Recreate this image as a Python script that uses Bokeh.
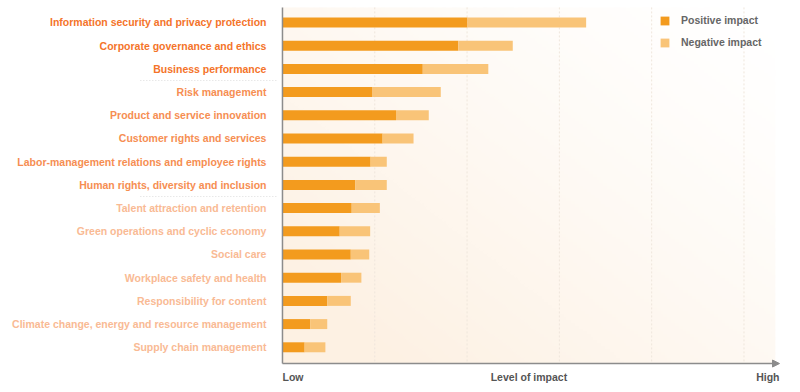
import numpy as np
from bokeh.plotting import figure
from bokeh.models import Range1d, ColumnDataSource, Arrow, NormalHead, Legend, LegendItem
from bokeh.core.properties import value
from bokeh.embed import file_html
from bokeh.resources import INLINE

categories = [
    "Information security and privacy protection",
    "Corporate governance and ethics",
    "Business performance",
    "Risk management",
    "Product and service innovation",
    "Customer rights and services",
    "Labor-management relations and employee rights",
    "Human rights, diversity and inclusion",
    "Talent attraction and retention",
    "Green operations and cyclic economy",
    "Social care",
    "Workplace safety and health",
    "Responsibility for content",
    "Climate change, energy and resource management",
    "Supply chain management",
]
positive = [40.1, 38.1, 30.4, 19.4, 24.6, 21.7, 19.1, 15.8, 15.0, 12.4, 14.8, 12.7, 9.7, 6.0, 4.8]
negative = [25.7, 11.8, 14.2, 14.9, 7.1, 6.7, 3.5, 6.8, 6.1, 6.6, 4.0, 4.4, 5.1, 3.7, 4.5]
tiers = [1, 1, 1, 2, 2, 2, 2, 2, 3, 3, 3, 3, 3, 3, 3]
grid_ticks = [20, 40, 60, 80, 100]
axis_labels = ["Low", "Level of impact", "High"]
series_names = ["Positive impact", "Negative impact"]

POS_COLOR = "#F39B1E"
NEG_COLOR = "#F9C478"
TIER_COLORS = {1: "#F4742A", 2: "#F68E52", 3: "#F9BA94"}
FONT_NAME = "Liberation Sans"
FONT = value(FONT_NAME)

W, H = 796, 390
X_MAX = 106.8
Y_TOP = -0.65
Y_BOT = 14.7

rows = list(range(len(categories)))
totals = [p + n for p, n in zip(positive, negative)]
src = ColumnDataSource(dict(
    y=rows, pos=positive, tot=totals, cat=categories,
    col=[TIER_COLORS[t] for t in tiers],
))

p = figure(width=W, height=H, output_backend="svg", toolbar_location=None,
           x_range=Range1d(-61.10, -61.10 + W / 4.615),
           y_range=Range1d(-0.948 + H / 23.2, -0.948),
           min_border=0, outline_line_color=None, background_fill_color="white")
p.axis.visible = False
p.grid.visible = False

# background gradient of the plotting area
ny, nx = 120, 240
yy, xx = np.mgrid[0:ny, 0:nx]
ydown = yy / (ny - 1)
xn = xx / (nx - 1)
s = np.clip(0.55 * ydown + 0.6 * (1 - xn), 0, 1)
img = np.zeros((ny, nx), dtype=np.uint32)
view = img.view(dtype=np.uint8).reshape((ny, nx, 4))
view[:, :, 0] = 252
view[:, :, 1] = 236
view[:, :, 2] = 218
view[:, :, 3] = (255 * 0.75 * s ** 1.3).astype(np.uint8)
p.image_rgba(image=[img], x=0, y=Y_TOP, dw=X_MAX, dh=Y_BOT - Y_TOP)

# grid lines
p.segment(x0=grid_ticks, y0=Y_TOP, x1=grid_ticks, y1=Y_BOT,
          line_color="#efe6dc", line_width=1, line_dash="2 2")

# bars
r_pos = p.hbar(y="y", left=0, right="pos", height=0.43, source=src,
               fill_color=POS_COLOR, line_color=None)
r_neg = p.hbar(y="y", left="pos", right="tot", height=0.43, source=src,
               fill_color=NEG_COLOR, line_color=None)

# category labels
p.text(x=-3.47, y="y", text="cat", source=src, text_color="col",
       text_align="right", text_baseline="middle", text_font=FONT,
       text_font_style="bold", text_font_size="10.5px")

# dotted separators between tiers
seps = [i - 0.5 for i in range(1, len(tiers)) if tiers[i] != tiers[i - 1]]
p.segment(x0=-30.8, y0=seps, x1=-1.0, y1=seps, line_color="#dddddd",
          line_width=1, line_dash="1 2")

# axes
p.segment(x0=[0], y0=[Y_TOP], x1=[0], y1=[Y_BOT], line_color="#8c8c8c", line_width=1.5)
p.add_layout(Arrow(end=NormalHead(size=7, fill_color="#8c8c8c", line_color="#8c8c8c"),
                   x_start=0, y_start=Y_BOT, x_end=107.7, y_end=Y_BOT,
                   line_color="#8c8c8c", line_width=1.5))

ax_src = ColumnDataSource(dict(x=[0, X_MAX / 2, 107.7], y=[15.3] * 3, t=axis_labels,
                               a=["left", "center", "right"]))
p.text(x="x", y="y", text="t", text_align="a", source=ax_src, text_baseline="middle",
       text_color="#555555", text_font=FONT, text_font_style="bold",
       text_font_size="10.5px")

legend = Legend(items=[LegendItem(label=series_names[0], renderers=[r_pos]),
                       LegendItem(label=series_names[1], renderers=[r_neg])],
                location=(659, H - 16 - 32), glyph_width=11, glyph_height=11,
                label_height=11, spacing=10, padding=0, margin=0,
                label_text_font=FONT_NAME, label_text_font_style="bold",
                label_text_font_size="10.5px", label_text_color="#666666",
                label_standoff=11, border_line_color=None,
                background_fill_alpha=0)
p.add_layout(legend)

open("out.html", "w").write(file_html(p, INLINE))
